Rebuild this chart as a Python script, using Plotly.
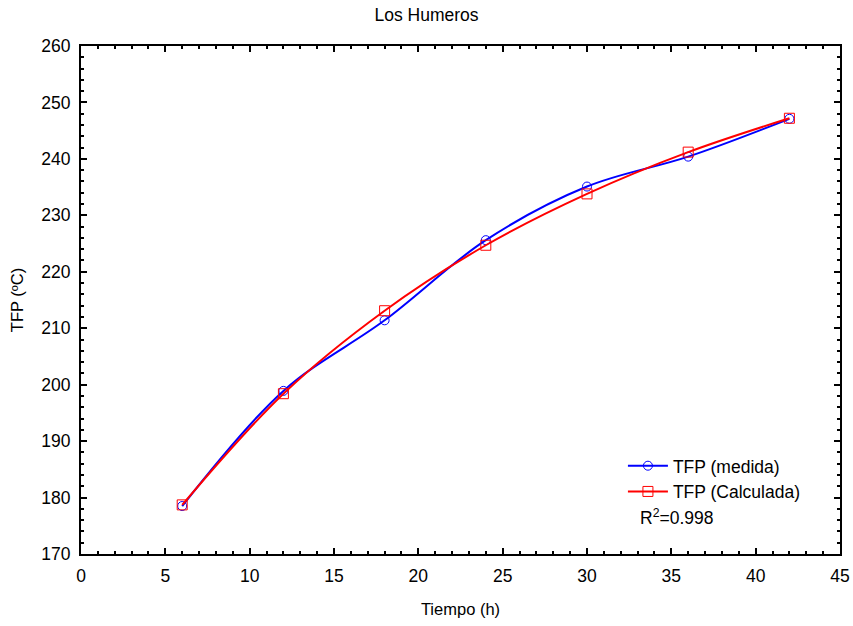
import plotly.graph_objects as go

tiempo = [6, 12, 18, 24, 30, 36, 42]
tfp_medida = [178.5, 198.9, 211.4, 225.6, 235.1, 240.4, 247.1]
tfp_calculada = [178.7, 198.4, 213.1, 224.7, 233.8, 241.2, 247.2]

font = "Liberation Sans, Arial, sans-serif"
FS = 17.5

fig = go.Figure()
fig.add_trace(go.Scatter(
    x=tiempo, y=tfp_medida, mode="lines+markers", name="TFP (medida)",
    line=dict(color="#0000ff", width=2, shape="spline", smoothing=1),
    marker=dict(symbol="circle-open", size=9, color="#0000ff", line=dict(width=1)),
))
fig.add_trace(go.Scatter(
    x=tiempo, y=tfp_calculada, mode="lines+markers", name="TFP (Calculada)",
    line=dict(color="#ff0000", width=2, shape="spline", smoothing=1),
    marker=dict(symbol="square-open", size=10, color="#ff0000", line=dict(width=1)),
))

axis_common = dict(
    showline=True, linecolor="black", linewidth=2, mirror="ticks",
    ticks="inside", ticklen=6, tickwidth=1.5, tickcolor="black",
    showgrid=False, zeroline=False, automargin=False,
    tickfont=dict(family=font, size=FS, color="black"),
    ticklabelstandoff=5,
)

fig.update_xaxes(
    range=[0, 45], dtick=5, tick0=0,
    minor=dict(ticks="inside", dtick=1, ticklen=3, tickcolor="black", showgrid=False),
    title=dict(text="Tiempo (h)", font=dict(family=font, size=16.5, color="black"), standoff=18),
    **axis_common,
)
fig.update_yaxes(
    range=[170, 260], dtick=10, tick0=170,
    minor=dict(ticks="inside", dtick=2, ticklen=3, tickcolor="black", showgrid=False),
    title=dict(text="TFP (ºC)", font=dict(family=font, size=16.5, color="black"), standoff=14),
    **axis_common,
)

fig.add_annotation(
    text="R<sup>2</sup>=0.998", xref="paper", yref="paper",
    x=0.734, y=0.073, xanchor="left", yanchor="middle", showarrow=False,
    font=dict(family=font, size=FS, color="black"),
)

fig.update_layout(
    width=853, height=626,
    margin=dict(l=81, r=13, t=46, b=72),
    paper_bgcolor="white", plot_bgcolor="white",
    title=dict(text="Los Humeros", x=0.5, xanchor="center", y=0.976, yanchor="middle",
               font=dict(family=font, size=FS, color="black")),
    legend=dict(x=0.714, y=0.209, xanchor="left", yanchor="top",
                bgcolor="rgba(0,0,0,0)", font=dict(family=font, size=FS, color="black"),
                tracegroupgap=0, itemwidth=40),
    showlegend=True,
)

fig.write_html("out.html")
